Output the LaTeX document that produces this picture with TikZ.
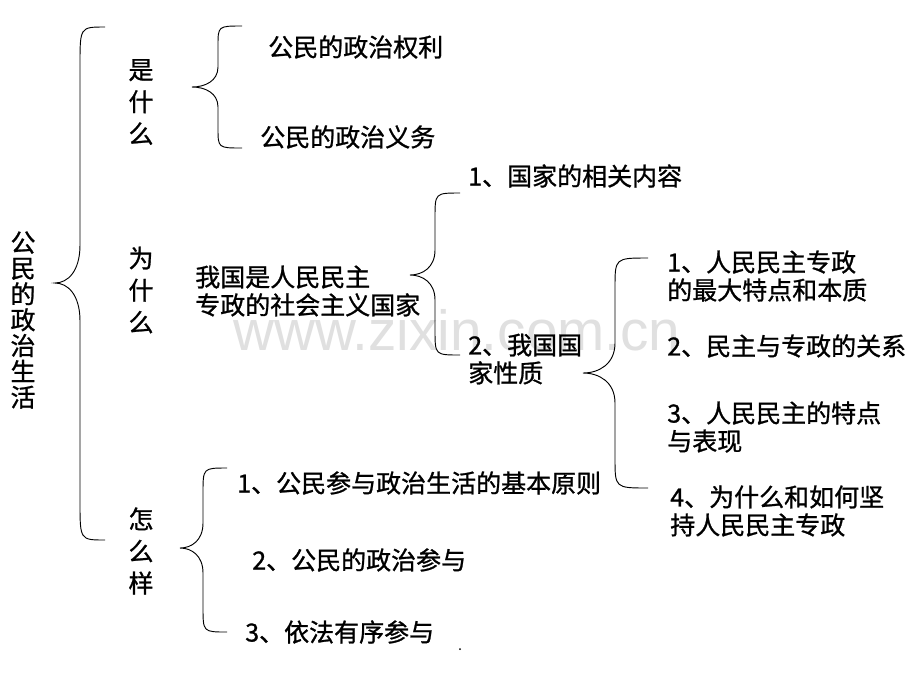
\documentclass[tikz,border=0pt]{standalone}
\usepackage{fontspec}
\setmainfont{Noto Sans CJK SC}[FakeBold=1]
\newfontfamily\wmfont{Liberation Sans}
\tikzset{
  x=0.75pt, y=-0.75pt,
  txt/.style={inner sep=0pt, anchor=west, font=\fontsize{18.75}{21}\selectfont, align=left},
  vtxt/.style={inner sep=0pt, align=center, font=\fontsize{18.75}{24}\selectfont},
  bracestyle/.style={line width=0.7pt, black},
}
\newcommand\mybrace[7]{%
  \draw[bracestyle] (#1,#2) .. controls (#3,#2) .. (#3,{#2+#7})
    -- (#3,{#5-#7}) .. controls (#3,{#5-0.3*#7}) and ({(#3+#4)/2},#5) .. (#4,#5)
    .. controls ({(#3+#4)/2},#5) and (#3,{#5+0.3*#7}) .. (#3,{#5+#7})
    -- (#3,{#6-#7}) .. controls (#3,#6) .. (#1,#6);}
\begin{document}
\begin{tikzpicture}
\useasboundingbox[fill=white] (0,0) rectangle (920,690);
% watermark
\node[anchor=base west, inner sep=0pt, text=black!12, font=\wmfont\fontsize{42.5}{42.5}\selectfont] (wm) at (233,350) {www.zixin.com.cn};
% braces
\mybrace{105}{27}{80}{55}{283}{540}{38}
\mybrace{242}{26}{218}{192}{87}{148}{20}
\mybrace{460}{193}{435}{410}{275}{355}{25}
\mybrace{648}{258}{615}{583}{373}{488}{30}
\mybrace{227}{468}{203}{180}{548}{632}{25}
% vertical labels
\node[vtxt, font=\fontsize{18.75}{19.35}\selectfont] (root) at (23,320) {公\\民\\的\\政\\治\\生\\活};
\node[vtxt] (what) at (141,102) {是\\什\\么};
\node[vtxt] (why) at (141,290) {为\\什\\么};
\node[vtxt] (how) at (141,551) {怎\\么\\样};
% what
\node[txt] (r1) at (268,47) {公民的政治权利};
\node[txt] (r2) at (260,137) {公民的政治义务};
% why
\node[txt] (st) at (195,291) {我国是人民民主\\专政的社会主义国家};
\node[txt] (c1) at (468,176) {1、国家的相关内容};
\node[txt] (c2) at (468,359) {2、我国国\\家性质};
\node[txt] (n1) at (667,276) {1、人民民主专政\\的最大特点和本质};
\node[txt] (n2) at (667,346) {2、民主与专政的关系};
\node[txt] (n3) at (667,427) {3、人民民主的特点\\与表现};
\node[txt] (n4) at (670,511) {4、为什么和如何坚\\持人民民主专政};
% how
\node[txt] (h1) at (237,483) {1、公民参与政治生活的基本原则};
\node[txt] (h2) at (252,560) {2、公民的政治参与};
\node[txt] (h3) at (245,632) {3、依法有序参与};
\fill (460,649) circle (1);
\end{tikzpicture}
\end{document}
